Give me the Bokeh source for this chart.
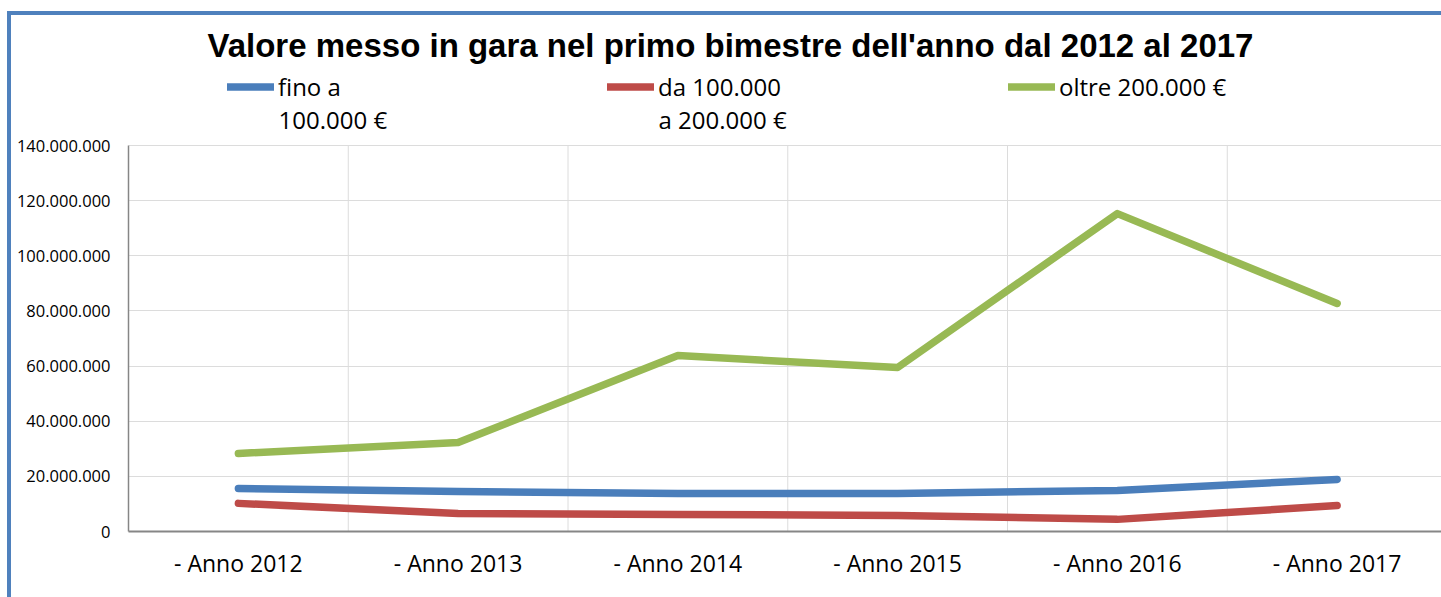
from bokeh.plotting import figure
from bokeh.models import (Range1d, FixedTicker, Legend, LegendItem, Title, Label,
                          Div, Spacer, Column, Row)
from bokeh.embed import file_html
from bokeh.resources import INLINE

# ---- data ----
categories = ["- Anno 2012", "- Anno 2013", "- Anno 2014",
              "- Anno 2015", "- Anno 2016", "- Anno 2017"]
series_names = ["fino a", "da 100.000", "oltre 200.000 €"]
series_names_cont = ["100.000 €", "a 200.000 €", ""]
fino_100k = [15.6e6, 14.5e6, 13.8e6, 13.8e6, 14.9e6, 18.9e6]
da_100k_a_200k = [10.2e6, 6.5e6, 6.2e6, 5.8e6, 4.4e6, 9.4e6]
oltre_200k = [28.3e6, 32.3e6, 63.8e6, 59.5e6, 115.3e6, 82.7e6]
y_ticks = [0, 20e6, 40e6, 60e6, 80e6, 100e6, 120e6, 140e6]
y_tick_labels = ["0", "20.000.000", "40.000.000", "60.000.000",
                 "80.000.000", "100.000.000", "120.000.000", "140.000.000"]
title_text = "Valore messo in gara nel primo bimestre dell'anno dal 2012 al 2017"
colors = ["#4A7EBB", "#BE4B48", "#98B954"]
border_color = "#4F81BD"
grid_color = "#DCDCDC"

# figure placed at page (11, 15), inside the blue chart border
W, H = 1430, 582
FL, FB = 117, 516          # frame left / bottom (figure px)
GRID_TOP = 130             # pixel row of the top value (140M)
FT = 51                    # frame top: frame also hosts the legend row
cat_w = 219.75
x_pos = [i + 0.5 for i in range(len(categories))]
y_max = y_ticks[-1]
px_per_val = (FB - GRID_TOP) / y_max
y_end = (FB - FT) / px_per_val

fig = figure(width=W, height=H, output_backend="svg", toolbar_location=None,
             x_range=Range1d(0, (W - FL) / cat_w), y_range=Range1d(0, y_end),
             min_border_left=FL, min_border_right=0, min_border_top=FT,
             min_border_bottom=H - FB, margin=0)
fig.outline_line_color = None
fig.background_fill_color = "white"
fig.border_fill_color = "white"

fig.title = Title(text=title_text, align="left", offset=79,
                  text_font="Liberation Sans", text_font_style="bold",
                  text_font_size="33px", text_color="black", standoff=5)

# axes
fig.xaxis.ticker = FixedTicker(ticks=x_pos)
fig.xaxis.major_label_overrides = {x: c for x, c in zip(x_pos, categories)}
fig.xaxis.major_tick_line_color = None
fig.xaxis.minor_tick_line_color = None
fig.xaxis.axis_line_color = "#868686"
fig.xaxis.axis_line_width = 2
fig.xaxis.major_label_text_font = "Open Sans"
fig.xaxis.major_label_text_font_size = "23px"
fig.xaxis.major_label_text_color = "black"
fig.xaxis.major_label_standoff = 9

fig.yaxis.ticker = FixedTicker(ticks=y_ticks)
fig.yaxis.bounds = (0, y_max)
fig.yaxis.major_label_overrides = {t: l for t, l in zip(y_ticks, y_tick_labels)}
fig.yaxis.major_tick_line_color = None
fig.yaxis.major_tick_out = 0
fig.yaxis.minor_tick_line_color = None
fig.yaxis.axis_line_color = "#868686"
fig.yaxis.axis_line_width = 1.5
fig.yaxis.major_label_text_font = "Open Sans"
fig.yaxis.major_label_text_font_size = "16.5px"
fig.yaxis.major_label_text_color = "black"
fig.yaxis.major_label_standoff = 18

# horizontal grid from the y ticker; vertical grid at category boundaries,
# limited to the value range
fig.ygrid.grid_line_color = grid_color
fig.xgrid.visible = False
bounds = list(range(1, len(categories)))
fig.segment(x0=bounds, y0=[0] * len(bounds), x1=bounds, y1=[y_max] * len(bounds),
            line_color=grid_color, line_width=1, level="underlay")

renderers = []
for vals, col in zip([fino_100k, da_100k_a_200k, oltre_200k], colors):
    r = fig.line(x_pos, vals, line_color=col, line_width=7.5,
                 line_cap="round", line_join="round")
    renderers.append(r)

# legend: one entry per block (positions in px from the frame's bottom-left)
LEG_ROW_H = 33
leg_cx = [99, 479, 880]           # glyph start of each entry
leg_center_row = 445              # px above frame bottom of the first text row
for name, cont, r, lx in zip(series_names, series_names_cont, renderers, leg_cx):
    leg = Legend(items=[LegendItem(label=name, renderers=[r])],
                 location=(lx, leg_center_row - LEG_ROW_H / 2),
                 padding=0, margin=0, spacing=0,
                 border_line_color=None, background_fill_alpha=0,
                 glyph_width=47, glyph_height=LEG_ROW_H, label_height=LEG_ROW_H,
                 label_width=0, label_standoff=4,
                 label_text_font="Open Sans", label_text_font_size="24px",
                 label_text_color="black")
    fig.add_layout(leg)
    if cont:
        fig.add_layout(Label(x=(lx + 51) / cat_w,
                             y=(leg_center_row - 33) / px_per_val,
                             text=cont, text_font="Open Sans",
                             text_font_size="24px", text_color="black",
                             text_baseline="alphabetic"))

# blue chart border (left and top edges of the chart object)
def bar(w, h):
    return Div(width=w, height=h, margin=0,
               styles={"background-color": border_color})

p = Column(children=[
    Spacer(width=1441, height=11, margin=0),
    Row(children=[
        Spacer(width=7, height=586, margin=0),
        bar(4, 586),
        Column(children=[bar(1430, 4), fig], spacing=0, margin=0),
    ], spacing=0, margin=0),
], spacing=0, margin=0)

open("out.html", "w").write(file_html(p, INLINE))
